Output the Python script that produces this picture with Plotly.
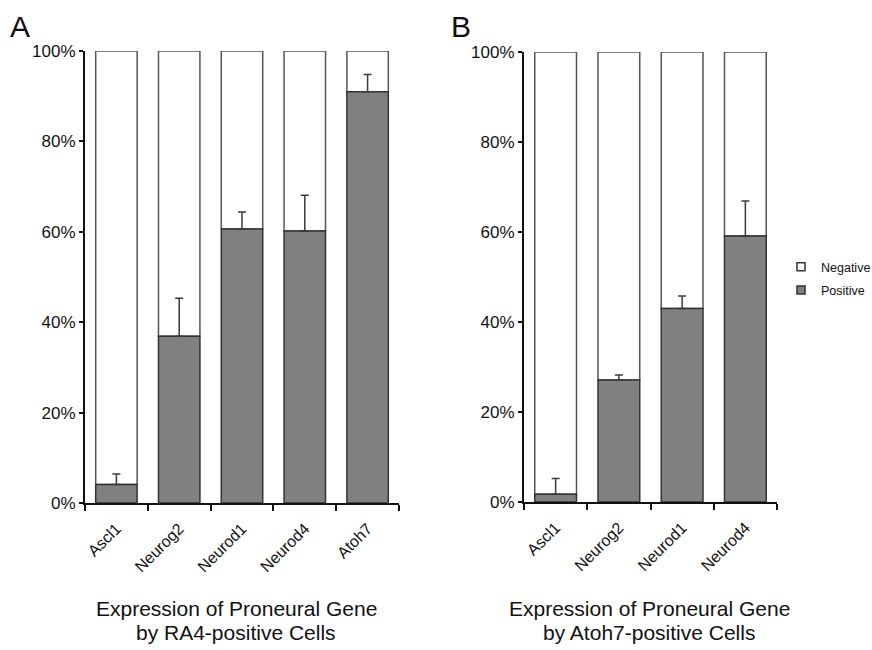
import plotly.graph_objects as go

# ---- data ----
genes_a = ["Ascl1", "Neurog2", "Neurod1", "Neurod4", "Atoh7"]
positive_a = [4.1, 36.9, 60.6, 60.2, 91.0]
err_a = [2.3, 8.4, 3.8, 7.9, 3.8]

genes_b = ["Ascl1", "Neurog2", "Neurod1", "Neurod4"]
positive_b = [1.7, 27.1, 43.0, 59.1]
err_b = [3.5, 1.1, 2.8, 7.8]

negative_a = [100 - v for v in positive_a]
negative_b = [100 - v for v in positive_b]

y_ticks = [0, 20, 40, 60, 80, 100]
y_ticktext = [f"{v}%" for v in y_ticks]

title_a = ["Expression of Proneural Gene", "by RA4-positive Cells"]
title_b = ["Expression of Proneural Gene", "by Atoh7-positive Cells"]

FONT = "Liberation Sans, Arial, Helvetica, sans-serif"
GRAY = "#808080"
W, H = 872, 650

fig = go.Figure()

def add_panel(genes, pos, neg, err, xa, ya):
    fig.add_trace(go.Bar(
        x=genes, y=neg, base=pos, name="Negative", xaxis=xa, yaxis=ya,
        marker=dict(color="white", line=dict(color="#555555", width=1.5)),
        showlegend=False))
    fig.add_trace(go.Bar(
        x=genes, y=pos, name="Positive", xaxis=xa, yaxis=ya,
        marker=dict(color=GRAY, line=dict(color="#333333", width=1.5)),
        error_y=dict(type="data", symmetric=False, array=err,
                     arrayminus=[0] * len(err), color="#3a3a3a",
                     thickness=1.5, width=4),
        showlegend=False))

add_panel(genes_a, positive_a, negative_a, err_a, "x", "y")
add_panel(genes_b, positive_b, negative_b, err_b, "x2", "y2")

# legend proxies
fig.add_trace(go.Scatter(x=[None], y=[None], mode="markers", name="Negative",
                         legendgroup="neg",
                         marker=dict(symbol="square", size=8, color="white",
                                     line=dict(color="#333333", width=1.5))))
fig.add_trace(go.Scatter(x=[None], y=[None], mode="markers", name="Positive",
                         legendgroup="pos",
                         marker=dict(symbol="square", size=8, color=GRAY,
                                     line=dict(color="#333333", width=1.5))))

def px_x(p):
    return p / W

def px_y(p):
    return (H - p) / H

xcommon = dict(type="category", tickson="boundaries", ticks="outside",
               ticklen=6, tickwidth=1.5, tickcolor="#111", showline=True,
               linecolor="#111", linewidth=2, tickangle=-45, automargin=False,
               ticklabelstandoff=8,
               tickfont=dict(family=FONT, size=16, color="#111"),
               showgrid=False, zeroline=False)
ycommon = dict(range=[0, 100], tickvals=y_ticks, ticktext=y_ticktext,
               ticks="outside", ticklen=4, tickwidth=1.5, tickcolor="#111",
               showline=True, linecolor="#111", linewidth=2, automargin=False,
               tickfont=dict(family=FONT, size=17, color="#111"),
               showgrid=False, zeroline=False)

fig.update_layout(
    width=W, height=H,
    margin=dict(l=0, r=0, t=0, b=0, pad=0, autoexpand=False),
    paper_bgcolor="white", plot_bgcolor="white",
    barmode="overlay", bargap=0.34,
    font=dict(family=FONT, color="#111"),
    xaxis=dict(domain=[px_x(85), px_x(399)], anchor="y",
               range=[-0.5, len(genes_a) - 0.5], **xcommon),
    yaxis=dict(domain=[px_y(503), px_y(51)], anchor="x", **ycommon),
    xaxis2=dict(domain=[px_x(524), px_x(777)], anchor="y2",
                range=[-0.5, len(genes_b) - 0.5], **xcommon),
    yaxis2=dict(domain=[px_y(502), px_y(52)], anchor="x2", **ycommon),
    legend=dict(x=px_x(781), y=px_y(252), xanchor="left", yanchor="top",
                font=dict(family=FONT, size=12.5, color="#111"),
                bgcolor="rgba(0,0,0,0)", itemwidth=30,
                traceorder="grouped", tracegroupgap=4),
)

ann = []
ann.append(dict(text="A", x=px_x(8), y=px_y(8), xref="paper", yref="paper",
                xanchor="left", yanchor="top", showarrow=False,
                font=dict(family=FONT, size=30, color="#111")))
ann.append(dict(text="B", x=px_x(449), y=px_y(8), xref="paper", yref="paper",
                xanchor="left", yanchor="top", showarrow=False,
                font=dict(family=FONT, size=30, color="#111")))
for cx, lines in ((236, title_a), (649, title_b)):
    for i, line in enumerate(lines):
        ann.append(dict(text=line, x=px_x(cx), y=px_y(608 + 24 * i),
                        xref="paper", yref="paper", xanchor="center",
                        yanchor="middle", showarrow=False,
                        font=dict(family=FONT, size=21, color="#111")))
fig.update_layout(annotations=ann)

fig.write_html(
    "out.html",
    config={"displayModeBar": False},
    post_script="document.body.style.margin='0';document.body.style.overflow='hidden';",
)
